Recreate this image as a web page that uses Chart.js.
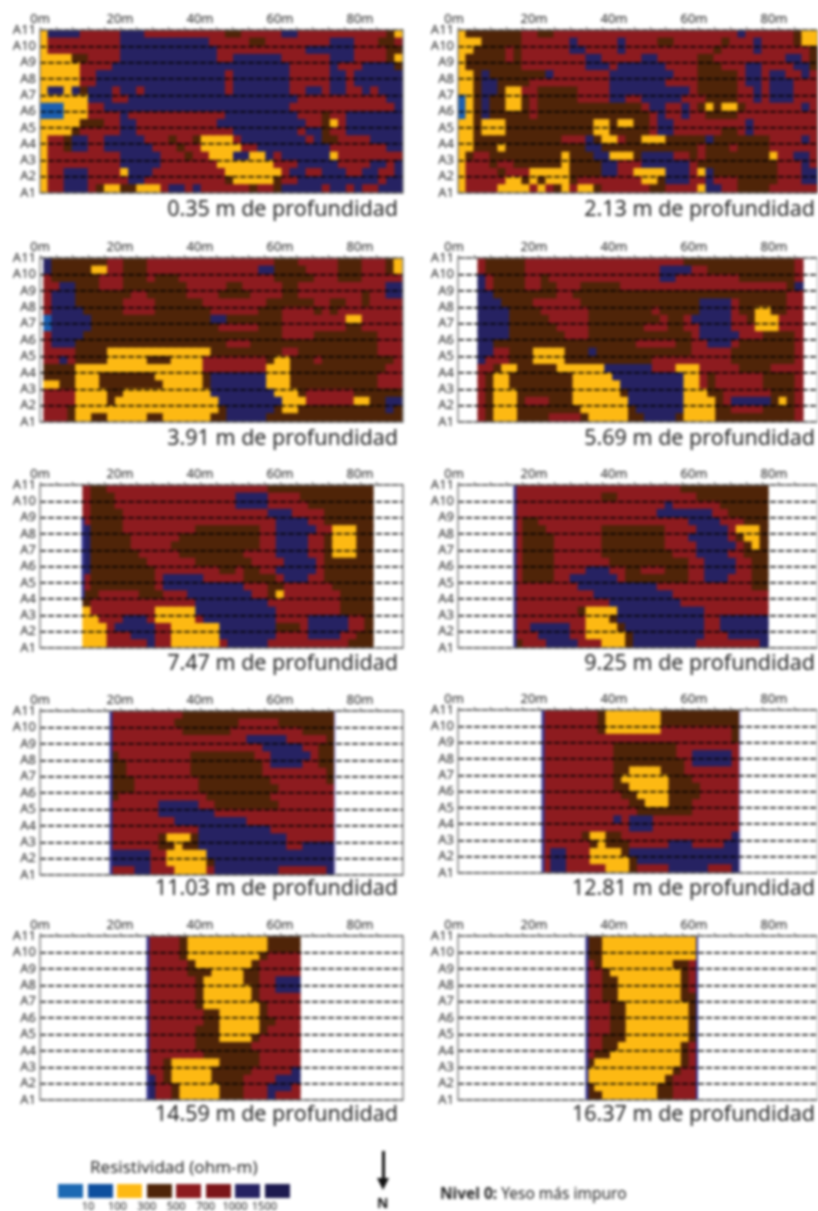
<!DOCTYPE html>
<html>
<head>
<meta charset="utf-8">
<title>Resistividad</title>
<script src="https://cdn.jsdelivr.net/npm/chart.js@4"></script>
<style>
html,body{margin:0;background:#fff;overflow:hidden;width:818px;height:1211px}
#page{position:absolute;left:0;top:0;width:818px;height:1211px;overflow:hidden;filter:blur(1.5px);font-family:"Noto Sans",sans-serif;color:#222}
#page canvas{position:absolute}
.t{position:absolute;white-space:nowrap}
</style>
</head>
<body>
<div id="page"></div>
<script>
// cell classes, each row runs top (A11) to bottom (A1) in half-line steps
const d035 = [
'ynnnn rrrrr nnnrr rrrrr rrrbb rrrrr nnrrr rrrrr rrrby',
'yrrrr rrrrr nnnnn nnnnn nrrrr rbbrr rrrrr rnnnr rrbbr',
'yrrrr rrrrr nnnnn nnnnn nnrrr rrrrr rrrnn nnnnr rrrbb',
'yyyyb brrrr nnnnn nnnnn nnrrn nnnnn rrrrr rnnnr rrrby',
'yyyyy rrrrn nnnnn nnnnn nnnnn nnnnn nrrrr rnrrr nnnnb',
'yyyyy rrnnn nnnnn nnnnn nnnrn nnnnn nrrrr rnnrn nnnnn',
'yyyyy rrnnn nnnnn nnnnn nnnrn nnnnn nrrrr rnnrn nnnnn',
'ynnyn bnnnr nnrnn nnnnn nnnrn nnnnn nrrnn rnnrr nrnnn',
'yyyyy ynnnr rnnnn nnnnn nnnnn nnnnn nnrrr rrrrr rrrnn',
'lllyy yrrnn nnnnn nnnnn nnnnn nnnnn nrrrr rrrrr rrrrn',
'lllyy yrrrr nrrrr rrrrr rrrnn nnnnn nnrrr brrnn nnnnn',
'yyyyy bbbrr nnrrr rrrrr rrnnn nnnnn nnnrr byrnn nnnnn',
'yyyyb rrrrr nnrrr rrrrr rrrrn nnnnn nnrnn brrnn nnnnn',
'yrrbn nrrnn nnnrr rbrrb yyyyr nnnnn nnnrn bbrrr rnnnn',
'yrrbn nrrnn nnnnr rrbrr yyyyy rrnnn nnnnn nrrrr rrrnn',
'yrrrr rrrrr nnnnn rrrbr ryyyn nyynr nnnnn nyrrr rrrrr',
'yrrrr rrrrr nnnnn rrrrr rryyy yyyyr rrnnn nnrrr rnnrn',
'yrrnn nrrrr ynnnr rrrrr rrryy yyyyy rnnrr nnnrr nnrrn',
'yrrnn nrrrr rnnrr rrrrr rrrby yyyyb rrnnn nnnnn nnrnn',
'yrrnn nrbyy bbyyy rnnrn rrrrr rbrrb nnnnn rnnrn rrnnn'
];
const d213 = [
'ybbbb bbbrr bbrrr rrrrr rrrrr rrrrr rrrrr nrrrr rrbyy',
'yyybb bbbrr rrrrn rrrrr nrrrr bbrrr rrrbr rrnrr rrbyy',
'yybbb brbrr rrrrn nrrrr nrrrr rrrrr rrbrr rrnrr rrrrb',
'ybbbb brbrr rrrrr rnnrr rrrnn rrrrr bbrrr rrrrr rnnrb',
'ybbbb bbbrr rrrrr rnnnr nnnnn nrrrr bbbrr rnnrr rrnnb',
'yybnb bbbbb bnrrr rrrrn nnnnn nnrrr bbbbb rnnrn nrrnr',
'yybnn bbbbr rrrrr rrrrn nnnnn nrrrr bbbbb rnnrn nnrrr',
'yybnn byyrr bbbbb rrrrn nnnnn nnnnr bbbbb rrnrn nnrrr',
'lybnb byybr bbbbb rrrrn nrrnn nnnrr rbbbb rrnrn nnrrr',
'lybnb byybr bbbbb bbbbb bbbrn nrrnr bybyy brrrr rrrnr',
'lybnb bbbbr bbbbb bbbbb bbbbr nrrnr rbbbb rrrrr rrrrr',
'yybyy ybbbb bbbbb bbyyb yybbr nnrrr rrrrr rnrrr rrrrr',
'yybyy ybbbb bbbbb bbyyb bbbbr nnrrr rrrbb rnrrr rrrrr',
'yybbb bbbbb bbbrr rnbyy rbbyy ybbbb bnbbb bbbbr rrrnr',
'yybbb ybbbb bbbbb bnnbb bbbbb bbbbb rbbbr bbbbr rrrrr',
'ybrrb bbbbb bbbyb bbnny yybnn nnrrb rbbbb bbbby rrnnr',
'yrrrb rrbbb bbbyb bbbnn rrrnn nnnnr bbbbb bbbbb rrrnr',
'yrrrr brrry yyyyb bbbnn rryyy ynnnr ynbbb bbbbb rrrnn',
'yrrrr ryyby byyyb rrrrr rrryy bnnnr rnrrr bbbbb rrrnn',
'yrrrr yyyyr yrbyr yybrr rrrrb brrrr ynnrr bbbbr rrrrr'
];
const d391 = [
'nbbbb bbbrr bbbrr rrrrr rrrrr rrrrb bbrrr rrbbb rrrby',
'nbbbb byyrr bbbrr rrrrr rrrrr rrnnb bbbrr rrbbb rrrby',
'rbbbb bbrrr bbbrb bbrrr rrrrr rrrrb bbbbr rrbbb rrrrr',
'rrnnb bbrrr bbbbb bbbrr rrrbb rrrrr bbrrr rrrrr rrrnn',
'rnnnb bbbbb brrbb bbbrr rrbbb brrrr bbrrr rrrrr brrnn',
'rnnnb bbbbb rrrrb bbbbb rrrrr rrrbb bbbbr rbbrr brrrr',
'rnnnn bbbbb rrrrb bbbbb brrrr rrbbb rrrrb rbrrr rrrrr',
'lnnnn nbbbb bbbbb bbbbb bnnbb bbbbb rrrrr rrryy rrrrr',
'lnnnn nbbbb bbbbb bbbbb bbrrr rrbbb rrrrr rrrbb rrrrr',
'rnnnn bbbbb bbbbb bbbbb bbbbb bbbbb rrrrb bbbbb bbrrr',
'rnnnb bbbbb bbbbb bbbbb bbbrr rbbbb bbbbb bbbbb bbrrr',
'rrrrb bbbyy yyyyy yyyyy ybbbb bbbbb rrbbb bbbbb bbrrr',
'rrnrb bbbyy yyybb byyyy rrrrr rrrby ybbbr bbbbb bbbbr',
'bbbby yyyyy yyyyy yyyyy rrrrr rrryy ybbbb bbbbb bbbrr',
'bbbby yybbb bbbby yyyyy bnnnn nnnyy ybbbb bbbbb bbrrr',
'yybby yybbb bbbbb yyyyy bnnnn nnnyy ybbbb bbbbb bbrrr',
'rrrry yyybb yyyyy yyyyy ynnnn nnnny yybrr rrrrb bbbbb',
'rrrry yyyby yyyyy yyyyy yynnn nnnnn yyyrr rrrry ybbnn',
'rrrby yyyyy yyyyy yyyyy yybnn nnnnb yybbb bbbbb bbbnb',
'rrrby ybbyy yyybb yyyyy ybbnn nnnbb bbbbb bbbbb bbbbb'
];
const d569 = [
'rbbbb brrrr rrrrr rrrrr rrrrr rbbbb bbbbb bbbbb r',
'rbbbb brrrr rrrrr rrrrr rrrnn nnrrb bbbbb bbbbb r',
'nrbbb brrbr rrrrr rrrrr rrrnn rrrrr rrrbb bbbbb r',
'nrbbb brrbb rrrbb bbbrr rrrrr rrrrr rrrrr rrrrb n',
'nnbbb bbbbb rrbbb bbbbb bbbbb bbbbb bbbbb bbbbr r',
'nnnbb bbrrr rrrbb bbbbb bbbbb bbbnn nnrbb bbbbr r',
'nnnnb bbbrr rrrrb bbbbb bbrbb bbbnn nnrbb yybbr r',
'nnnnb bbbbr rrrrb bbbbb bbbrb brnnn nnrrb yyyrr r',
'nnnnb bbbbb rrrrb bbbbb brrrb brrnn nnrrr yyyrr r',
'nnnnb bbbbb brrrb bbbbb bbbbb bbrnn nnnrr rbbbb r',
'nnbbb bbbbb bbbbb bbbbb rrrrr bbrrn nnrbb bbbbb r',
'nnrrb bbyyy ybbbn bbbbb bbbbb bbrrr rrbbb bbbbb r',
'nrrrb bbyyy ybbbb bbbbb bbrrr rrrrr rrbbb bbbbb r',
'rrbyy bbbbb yyyyy ynnnn nnrrr yyyrr rrrbb bbrrr r',
'rbyyb bbbbb bbyyy yynnn nnnnn nyyrb rrrrr rbbbb r',
'rbyyb bbbbb bbyyy yyynn nnnnn nyyrb rrrrr rbbbb r',
'rbyyy bbbbb bbyyy yyybn nnnnn nyyyb brrrr rrbbb r',
'rbyyy brrrb bbyyy yyyyn nnnnn nyyyy brnnn nnbyb r',
'rbyyy bbbbb bbbyy yyyyb nnnnn nyyyy bbrrr rbbbb r',
'rbyyy bbbbr rrrby yyyyb bnnnn byyyy bbbbb bbbbb r'
];
const d747 = [
'rbbrr rrrrr rrrrr rrrrr rrrbb bbbbb bbbbb b',
'rbbbr rrrrr rrrrr rrrrn nnnrr rrbbb bbbbb b',
'rbbbr rrrrr rrrrr rrrrn nnnrr rrrbb bbbbb b',
'rbbbb rrrrr rrrrr rrrrr rrrnn nrrrr bbbbb b',
'rbbbb rrrrr rrrrr rrrrr rrrrn nnnrr bbbbb b',
'nbbbb rrrrr rrrrb bbbbb bbrrn nnnnr ryyyb b',
'nbbbb brrrr rrbbb bbbbb bbrrn nnnrr byyyb b',
'nbbbb brrrr rbbbb bbbbb bbrrn nnnrr byyyb b',
'nbbbb bbrrr rrbbb bbbbb rrrrn nnnrr byyyb b',
'nbbbb bbbrr rrrrb bbbbb brrrr nnnnr bbbbb b',
'nbbbb bbbbr rrrrr rrbbr bbrrn nnnnr bbbbb b',
'rbbbb bbbbr nnnnn rrrrr bbbbr nnnrr bbbbb b',
'rbbbb bbbbr nnnnn nnnnn rrrbb rrrrr rbbbb b',
'bbrrr rrbbb rrrnn nnnnn nrrby rrrrr rrbbb b',
'brrrr rrrrr rrrrn nnnnn nnnrr rrrrr rrbbb b',
'yrrrr rrrry yyyyn nnnnn nnnnr rrrrr rrbbb b',
'yyrrr nnnry yyyyr nnnnn nnnnr rrrnn nnnrr b',
'yyyrn nnnnr ryyyy yynnn nnnnb bbrnn nnnrr b',
'yyyrr rnnnr ryyyy yynnn nnnnr rrrnn nnrrb b',
'yyyrr rrrnr ryyyy yyrnn nnnrr rrrrr rrrbb b'
];
const d925 = [
'rrrrr rrrrr rrrrr rrrrr rbbbb bbbbb bb',
'rrrrr rrrrr rbbrr rrrrr rrrbb bbbbb bb',
'rrrrr rrrrr rrrrr rrrrn rrrrr rbbbb bb',
'rrrrr rrrrr rrrrr rrrnn nnnnn rrbbb bb',
'rbbrr rrrrr rrrrr rrrrr rrnnn nrrrb bb',
'rbbbr rrrrr rbbbb bbbbr rrrnn nnryy yb',
'rbbbb rrrrr rbbbb bbbbr rrnnn nnrby yb',
'rbbbb rrrrr rbbbb bbbbr rrrnn nnnrb yb',
'rbbbb rrrrr rbbbb bbbbb rrrnn nnrrb bb',
'rbbbb rrrrr rrbbb bbbbb bbrrn nnnrr bb',
'rbbbb rrrrn nnrrb brrrb bbrrn nnnrr bb',
'rbbbb rrnnn nnnrb bbbbb bbrrn nnrrr bb',
'rrrrr rrrnn nnnnn nnnrr rrrrr rrrrr bb',
'rrrrr rrrrr nnnnn nnnnn rrrrr rrrrr rr',
'rrrrr rrrrr rrnnn nnnnn nrrrr rrrrr rr',
'rrrrr rrrby yyynn nnnnn nnnnr rrrrr rr',
'rrrrr rrrry yybnn nnnnn nnnnr rnnnn nn',
'rrnnn nnrry yyybn nnnnn nnnnr rnnnn nn',
'rrrnn nnrry yyyyb nnnnn nnnnr rrnnn nn',
'brrrn nnnrr ryyyb nnnnn nnnrr rrrrr rn'
];
const d1103 = [
'rrrrr rrrrb bbbbb bbbbb bbbbb bbb',
'rrrrr rrrbb bbbbb brrrr rbbbb bbb',
'rrrrr rrrrb bbbbb rrrrr rrrrb bbb',
'rrrrr rrrrr rrrrr rrnnn nnrrr rrb',
'rrrrr rrrrr rrrrr rrrrn nnnnr rbb',
'brrrr rrrrr bbbbb bbbrr nnnnn rbb',
'bbrrr rrrrr bbbbb bbbbr nnnnr rbb',
'bbrrr rrrrr bbbbb bbbbr rrrrr rrb',
'bbbrr rrrrr rbbbb bbbbb rrrrr rrb',
'bbbrr rrrrr rbbbb bbbbb brrrr rrr',
'brrrr rrrrr rrbbb bbbbb rrrrr rrr',
'rrrrr rnnnn nrrbb bbbbb brrrr rrr',
'rrrrr rnnnn nnnrr rrrrr rrrrr rrr',
'rrrrr rrrnn nnnnn nnrrr rrrrr rrr',
'rrrrr rrrrr rnnnn nnnnn rrrrr rrr',
'rrrrr rbyyy bnnnn nnnnn nnrrr rrr',
'rrrrr rbbyb bnnnn nnnnn nnrrn nnn',
'nnnnn rryyy yynnn nnnnn nnnnn nnn',
'nnnnn rryyy yybnn nnnnn nnnnn nnn',
'rrrnn rrryy yyrnn nnnnn nrrrr rrn'
];
const d1281 = [
'rrrrr rrbyy yyyyy bbbbb bbbbb',
'rrrrr rrbyy yyyyy bbbbb bbbbb',
'rrrrr rrbyy yyyyy rrrrr rrrrb',
'rrrrr rrrrr rrrrr rrrrr rrrrb',
'rrrrr rrrrb bbbbb bbrrr rrrrr',
'rrrrr rrrrb bbbbb bbrrn nnnnr',
'rrrrr rrrrb bbbbb bbbrn nnnnr',
'rrrrr rrrrb byyyy bbbrr rrrrr',
'rrrrr rrrrb yyyyy ybbbr rrrrr',
'rrrrr rrrrb byyyy ybbbb rrrrr',
'rrrrr rrrrr bbyyy ybbbb rrrrr',
'rrrrr rrrrr rbbyy ybbbr rrrrr',
'rrrrr rrrrr rrbbb bbbbr rrrrr',
'rrrrr rrrrn rnnnr rrrrr rrrrr',
'rrrrr rrrrr rnnnr rrrrr rrrrr',
'rrrrr byybb rrrrr rrrrr rrrrn',
'rrrrr rbybb brrrr rnnnr rrrnn',
'rnnrr ryyyy bnnnn nnnnn nnnnn',
'rnnrr ryyyy ybnnn nnnnn nnnnn',
'rnnrr rrryy ybrrr rnnnn nrrrn'
];
const d1459 = [
'rrrrb yyyyy yyyyy bbbb',
'rrrrb yyyyy yyyyy bbbb',
'rrrrb yyyyy yyyyb rrrr',
'rrrrr byyyy yyybr rrrr',
'rrrrr bbbyy yybbr rrrr',
'rrrrr rbyyy yybbr rnnn',
'rrrrr rbyyy yyybr rnnn',
'rrrrr rbyyy yyybr rrrr',
'rrrrr rbyyy yyyyb rrrr',
'rrrrr rrbby yyyyb rrrr',
'rrrrr rrbby yyyyb brrr',
'rrrrr rbbby yyyyb rrrr',
'rrrrr rbbby yyybr rrrr',
'rrrrr rbbbb bbbrr rrrr',
'rrrrr rrbbb bbbbr rrrr',
'rrbyy yyyyb bbbbr rrrr',
'rrbyy yyybb bbbrr rrrn',
'nrbyy yyybb bbrrr rnnn',
'nrrby yyyyb bbrrr nnnr',
'nrrby yyyyb bbrrr nrrr'
];
const d1637 = [
'bbyyyyyyyyyyyy',
'bbyyyyyyyyyyyy',
'bbyyyyyyyyyyyy',
'rbyyyyyyyyybbr',
'rrbyyyyyyyyybr',
'rrbbyyyyyyyybr',
'rrbbyyyyyyyybr',
'rrbbyyyyyyyybb',
'rrrbbyyyyyyyyb',
'rrrbbyyyyyyyyb',
'rrrbbyyyyyyyyb',
'rrrbbyyyyyyyyb',
'rrbbbyyyyyyyyb',
'rrbbyyyyyyyybr',
'rbbyyyyyyyyybr',
'byyyyyyyyyyybr',
'yyyyyyyyyyybrr',
'yyyyyyyyyybrrr',
'byyyyyyyybbrrr',
'bbyyyyyyybbrrr'
];

const depthGrids = [d035, d213, d391, d569, d747, d925, d1103, d1281, d1459, d1637];
const depthLabels = ['0.35','2.13','3.91','5.69','7.47','9.25','11.03','12.81','14.59','16.37'];
// metres covered by the survey at each depth
const startM = [0, 0, 1, 5, 10.75, 14.25, 17.75, 21.25, 27, 32.25];
const endM = [90.75, 90, 90.5, 86.25, 83.25, 77.5, 73.75, 70.5, 65, 59.75];
const colCount = [45, 45, 45, 41, 36, 32, 28, 25, 19, 14];
// which depths have the thin strip on the left edge of the section
const stripFrom = [null, null, null, null, 3, 0, 0, 0, 0, 0];
const stripTo = [null, null, null, null, 8, 10, 10, 10, 10, 10];
// and on the right edge
const rightStrip = [null, null, null, null, null, null, '#b9b4dc', '#b9b4dc', null, '#34348f'];
const lineNames = ['A1','A2','A3','A4','A5','A6','A7','A8','A9','A10','A11'];

const cellColors = {y:'#fdb913', b:'#4f2408', r:'#8d1b1f', n:'#262262', l:'#1c5fb0'};
const plotTop = [30, 30, 258, 258, 485, 485, 711, 710, 936, 936];
const plotBottom = [193, 193, 422, 422, 648, 648, 875, 873, 1100, 1100];
const titleY = [208, 208, 437, 437, 662, 662, 887, 887, 1113, 1113];

const legendColors = ['#1c69b3','#0e4f9e','#fdb913','#4f2408','#8d1b1f','#7c1519','#262262','#1d1a4f'];
const legendTicks = ['10','100','300','500','700','1000','1500'];

const page = document.getElementById('page');

// outline of the plot, chart.js has no box option in v4
const frame = {
    id: 'frame',
    afterDraw(chart) {
        const a = chart.chartArea, c = chart.ctx;
        c.save();
        c.strokeStyle = '#7a7a7a';
        c.lineWidth = 1.4;
        c.strokeRect(a.left, a.top, a.width, a.height);
        c.restore();
    }
};

function drawPanel(p) {
    const right = p % 2 == 1;
    const left = right ? 458 : 40;
    const xMax = right ? 90 : 90.75;
    const canvas = document.createElement('canvas');
    const h = plotBottom[p] - plotTop[p];
    canvas.style.left = (left - 40) + 'px';
    canvas.style.top = (plotTop[p] - 30) + 'px';
    canvas.style.width = (right ? 400 : 412) + 'px';
    canvas.style.height = (h + 38) + 'px';
    canvas.width = right ? 400 : 412;
    canvas.height = h + 38;
    page.appendChild(canvas);

    const n = colCount[p];
    const w = (endM[p] - startM[p]) / n;
    const rows = depthGrids[p].map(r => r.replace(/ /g, '').padEnd(n, r.slice(-1)));
    const datasets = [];
    for (let j = rows.length - 1; j >= 0; j--) {
        const pts = [], cols = [];
        for (let i = 0; i < n; i++) {
            pts.push({x: startM[p] + (i + 0.5) * w, y: 0.5});
            cols.push(cellColors[rows[j][i]]);
        }
        datasets.push({
            type: 'bar', data: pts, backgroundColor: cols, borderWidth: 0,
            inflateAmount: 0.6, barPercentage: 1, categoryPercentage: 1, order: 1
        });
    }
    if (stripFrom[p] !== null) {
        datasets.push({
            type: 'line', order: 0, pointRadius: 0, borderWidth: 3, borderColor: '#34348f',
            data: [{x: startM[p], y: stripFrom[p]}, {x: startM[p], y: stripTo[p]}]
        });
    }
    if (rightStrip[p] !== null) {
        datasets.push({
            type: 'line', order: 0, pointRadius: 0, borderWidth: 2, borderColor: rightStrip[p], stack: 'edge',
            data: [{x: endM[p], y: 0}, {x: endM[p], y: 10}]
        });
    }

    new Chart(canvas, {
        data: {datasets: datasets},
        plugins: [frame],
        options: {
            responsive: false,
            animation: false,
            events: [],
            layout: {padding: {right: right ? 0 : 9, bottom: 8, left: 0, top: 0}},
            plugins: {legend: {display: false}, tooltip: {enabled: false}},
            scales: {
                x: {
                    type: 'linear', position: 'top', stacked: true, offset: false,
                    min: 0, max: xMax,
                    afterFit: s => { s.height = 30; s.paddingLeft = 0; s.paddingRight = 0; },
                    grid: {offset: false, drawOnChartArea: false, tickLength: 3, tickColor: '#555', lineWidth: 1},
                    border: {display: false},
                    afterBuildTicks: s => { s.ticks = s.ticks.filter(t => t.value % 4 == 0); },
                    ticks: {
                        stepSize: 4, autoSkip: false, maxRotation: 0, padding: 0,
                        labelOffset: right ? -4 : 0,
                        color: '#222', font: {family: 'Noto Sans', size: 13},
                        callback: v => v % 20 == 0 ? v + 'm' : ''
                    }
                },
                y: {
                    type: 'linear', stacked: true, min: 0, max: 10,
                    afterFit: s => { s.width = 40; s.paddingTop = 0; s.paddingBottom = 0; },
                    grid: {color: '#000', lineWidth: 1.4, z: 1, drawTicks: false},
                    border: {display: false, dash: [6, 2]},
                    ticks: {
                        stepSize: 1, padding: 4, color: '#222', autoSkip: false,
                        font: {family: 'Noto Sans', size: 13},
                        callback: v => lineNames[v]
                    }
                }
            }
        }
    });

    const title = document.createElement('div');
    title.className = 't';
    title.textContent = depthLabels[p] + ' m de profundidad';
    title.style.cssText = 'right:' + (right ? 3 : 420) + 'px;top:' + (titleY[p] - 14) + 'px;font-size:21.5px;line-height:28px';
    page.appendChild(title);
}

for (let p = 0; p < depthGrids.length; p++) drawPanel(p);

function addText(txt, x, y, css) {
    const el = document.createElement('div');
    el.className = 't';
    el.innerHTML = txt;
    el.style.cssText = 'left:' + x + 'px;top:' + y + 'px;' + css;
    page.appendChild(el);
}
addText('Resistividad (ohm-m)', 90, 1157, 'font-size:17px;line-height:20px');
legendColors.forEach((c, i) => {
    addText('', 58 + i * 29.5, 1184, 'width:25px;height:14px;background:' + c);
});
legendTicks.forEach((t, i) => {
    addText(t, 88 + i * 29.4 - 15, 1200, 'width:30px;text-align:center;font-size:11px;line-height:12px');
});
addText('', 382, 1151, 'width:3px;height:30px;background:#111');
addText('', 377, 1178, 'width:0;height:0;border-left:6.5px solid transparent;border-right:6.5px solid transparent;border-top:12px solid #111');
addText('N', 377, 1195, 'font-size:14px;font-weight:700;line-height:16px;color:#111');
addText('<b>Nivel 0:</b> Yeso más impuro', 440, 1183, 'font-size:15.5px;line-height:20px');
</script>
</body>
</html>
